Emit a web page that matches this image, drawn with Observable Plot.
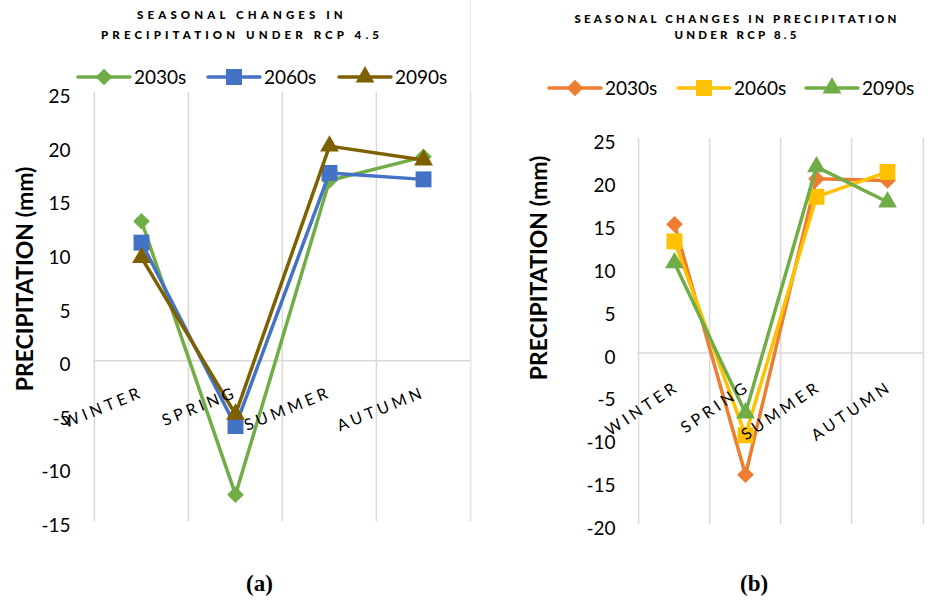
<!DOCTYPE html>
<html><head><meta charset="utf-8">
<script src="https://cdn.jsdelivr.net/npm/d3@7"></script>
<script src="https://cdn.jsdelivr.net/npm/@observablehq/plot@0.6"></script>
<style>
body{margin:0;background:#fff;}
#wrap{position:relative;width:931px;height:600px;overflow:hidden;font-family:Lato,"Open Sans",sans-serif;color:#000;}
.abs{position:absolute;white-space:nowrap;}
.title{font-weight:900;font-size:11.5px;letter-spacing:4.1px;text-align:center;width:460px;line-height:14px;}
.ytitle{font-weight:700;font-size:23px;width:320px;height:28px;line-height:28px;text-align:center;transform:rotate(-90deg);}
.leg{font-size:19px;line-height:22px;display:flex;align-items:center;}
.cap{font-family:"Liberation Serif","DejaVu Serif",serif;font-weight:700;font-size:23px;}
svg.plot{background:transparent;overflow:visible;}
</style></head>
<body><div id="wrap"></div>
<script>
// ---- data ----
const seasons = ["WINTER", "SPRING", "SUMMER", "AUTUMN"];
const periods = ["2030s", "2060s", "2090s"];
const rcp45_2030s = [13.0, -12.5, 16.8, 19.0];
const rcp45_2060s = [11.0, -6.1, 17.5, 16.9];
const rcp45_2090s = [9.6, -5.0, 20.0, 18.7];
const rcp85_2030s = [15.0, -14.2, 20.3, 20.1];
const rcp85_2060s = [13.0, -9.6, 18.2, 21.1];
const rcp85_2090s = [10.5, -7.0, 21.7, 17.6];
const yTicks45 = [-15, -10, -5, 0, 5, 10, 15, 20, 25];
const yTicks85 = [-20, -15, -10, -5, 0, 5, 10, 15, 20, 25];
const title45 = ["SEASONAL CHANGES IN", "PRECIPITATION UNDER RCP 4.5"];
const title85 = ["SEASONAL CHANGES IN PRECIPITATION", "UNDER RCP 8.5"];
const yLabel = "PRECIPITATION (mm)";

const colors45 = ["#70AD47", "#4472C4", "#7F6000"];
const colors85 = ["#ED7D31", "#FFC000", "#70AD47"];
const symbols = ["diamond2", "square", "triangle"];
const symR = [7.5, 9, 7];

function toRows(seriesList) {
  const rows = [];
  seriesList.forEach((vals, si) => vals.forEach((v, i) => rows.push({season: seasons[i], period: periods[si], value: v})));
  return rows;
}

const wrap = document.getElementById("wrap");

function panel(opts) {
  const {rows, ticks, domain, left, width, height, mt, mb, ml, mr, colors, rot, ldx, ldy, tp} = opts;
  const step = (width - ml - mr) / seasons.length;
  const marks = [
    Plot.ruleX(seasons, {x: d => d, dx: -step / 2, stroke: "#d9d9d9", strokeWidth: 1.5}),
    Plot.ruleX([seasons[seasons.length - 1]], {x: d => d, dx: step / 2, stroke: "#d9d9d9", strokeWidth: 1.5}),
    Plot.ruleY([0], {stroke: "#d9d9d9", strokeWidth: 1.5}),
    Plot.axisY(ticks, {tickSize: 0, tickPadding: tp, fontSize: 19, tickFormat: d => String(d), dy: 4.5, label: null}),
  ];
  periods.forEach((p, si) => {
    const data = rows.filter(r => r.period === p);
    marks.push(Plot.line(data, {x: "season", y: "value", stroke: colors[si], strokeWidth: 3.5, strokeLinejoin: "round", strokeLinecap: "round"}));
    marks.push(Plot.dot(data, {x: "season", y: "value", fill: colors[si], stroke: "none", symbol: symbols[si], r: symR[si]}));
  });
  marks.push(Plot.text(seasons, {x: d => d, y: 0, text: d => d, rotate: rot, textAnchor: "end", lineAnchor: "middle", dx: ldx, dy: ldy, fontSize: 16, fill: "#000"}));
  const svg = Plot.plot({
    width, height, marginTop: mt, marginBottom: mb, marginLeft: ml, marginRight: mr,
    x: {type: "point", domain: seasons, padding: 0.5, axis: null},
    y: {domain, axis: null},
    style: {fontFamily: "Lato, 'Open Sans', sans-serif", color: "#000", background: "transparent", overflow: "visible"},
    marks
  });
  svg.classList.add("plot");
  svg.querySelectorAll("text").forEach(t => {
    if (seasons.includes(t.textContent)) t.style.letterSpacing = "3.8px";
  });
  svg.style.position = "absolute";
  svg.style.left = left + "px";
  svg.style.top = "0px";
  wrap.appendChild(svg);
}

panel({rows: toRows([rcp45_2030s, rcp45_2060s, rcp45_2090s]), ticks: yTicks45, domain: [-15, 25],
  left: 0, width: 471, height: 560, mt: 92, mb: 39, ml: 93, mr: 1, colors: colors45, rot: -22, ldx: 1, ldy: 31, tp: 23});
panel({rows: toRows([rcp85_2030s, rcp85_2060s, rcp85_2090s]), ticks: yTicks85, domain: [-20, 25],
  left: 470, width: 461, height: 560, mt: 138, mb: 36, ml: 167, mr: 7, colors: colors85, rot: -34, ldx: 3, ldy: 32, tp: 22});

function addDiv(cls, text, css) {
  const d = document.createElement("div");
  d.className = "abs " + cls;
  d.textContent = text;
  Object.assign(d.style, css);
  wrap.appendChild(d);
  return d;
}
// titles
addDiv("title", title45[0], {left: (240 - 230 + 2) + "px", top: (15 - 7) + "px"});
addDiv("title", title45[1], {left: (240 - 230 + 2) + "px", top: (35 - 7) + "px"});
addDiv("title", title85[0], {left: (735 - 230 + 2) + "px", top: (19 - 7) + "px", letterSpacing: "3.2px"});
addDiv("title", title85[1], {left: (735 - 230 + 2) + "px", top: (35 - 7) + "px", letterSpacing: "3.2px"});
// y titles
addDiv("ytitle", yLabel, {left: (24 - 160) + "px", top: (279 - 14) + "px"});
addDiv("ytitle", yLabel, {left: (538 - 160) + "px", top: (268 - 14) + "px"});
// captions
addDiv("cap", "(a)", {left: "246px", top: "571px"});
addDiv("cap", "(b)", {left: "740px", top: "571px"});
// right chart border
const border = document.createElement("div");
Object.assign(border.style, {position: "absolute", left: "470px", top: "0px", width: "1px", height: "520px", background: "#e8e8e8"});
wrap.appendChild(border);

// legends
function legend(colors, xs, y) {
  periods.forEach((p, si) => {
    const item = document.createElement("div");
    item.className = "abs leg";
    Object.assign(item.style, {left: xs[si] + "px", top: (y - 11) + "px"});
    const ns = "http://www.w3.org/2000/svg";
    const s = document.createElementNS(ns, "svg");
    s.setAttribute("width", 56); s.setAttribute("height", 22);
    const ln = document.createElementNS(ns, "line");
    ln.setAttribute("x1", 2); ln.setAttribute("x2", 54); ln.setAttribute("y1", 11); ln.setAttribute("y2", 11);
    ln.setAttribute("stroke", colors[si]); ln.setAttribute("stroke-width", 3.5); ln.setAttribute("stroke-linecap", "round");
    s.appendChild(ln);
    const symMap = {diamond2: d3.symbolDiamond2, square: d3.symbolSquare, triangle: d3.symbolTriangle};
    const path = document.createElementNS(ns, "path");
    path.setAttribute("d", d3.symbol(symMap[symbols[si]], Math.PI * symR[si] * symR[si])());
    path.setAttribute("transform", "translate(28,11)");
    path.setAttribute("fill", colors[si]);
    s.appendChild(path);
    item.appendChild(s);
    const t = document.createElement("span");
    t.textContent = p;
    t.style.marginLeft = "2px";
    item.appendChild(t);
    wrap.appendChild(item);
  });
}
legend(colors45, [76, 206, 337], 77);
legend(colors85, [547, 676, 804], 88);
</script>
</body></html>
